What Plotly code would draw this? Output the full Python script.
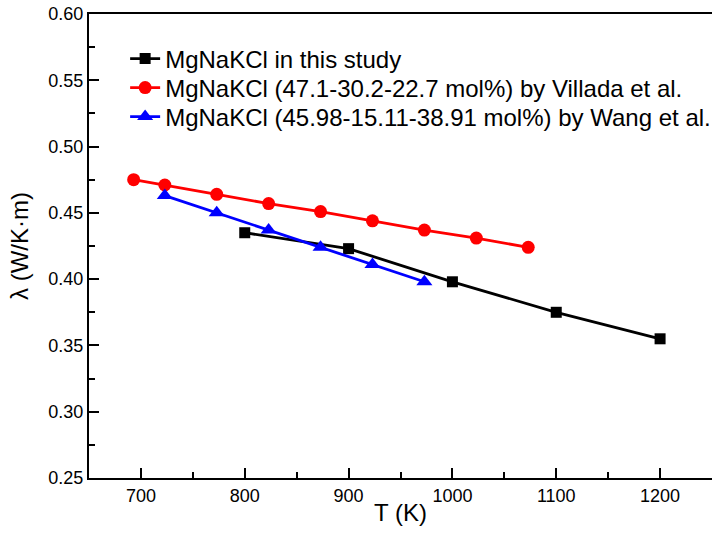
import plotly.graph_objects as go

# Thermal conductivity of MgCl2-NaCl-KCl melts
t_this = [800, 900, 1000, 1100, 1200]
k_this = [0.435, 0.423, 0.398, 0.375, 0.355]

t_villada = [693, 723, 773, 823, 873, 923, 973, 1023, 1073]
k_villada = [0.475, 0.471, 0.464, 0.457, 0.451, 0.444, 0.437, 0.431, 0.424]

t_wang = [723, 773, 823, 873, 923, 973]
k_wang = [0.463, 0.450, 0.437, 0.424, 0.411, 0.398]

names = [
    "MgNaKCl in this study",
    "MgNaKCl (47.1-30.2-22.7 mol%) by Villada et al.",
    "MgNaKCl (45.98-15.11-38.91 mol%) by Wang et al.",
]

FONT = "Arial, Liberation Sans, sans-serif"

fig = go.Figure()
fig.add_trace(go.Scatter(
    x=t_this, y=k_this, mode="lines+markers", name=names[0], legend="legend",
    line=dict(color="black", width=2.8),
    marker=dict(symbol="square", size=11, color="black"),
))
fig.add_trace(go.Scatter(
    x=t_villada, y=k_villada, mode="lines+markers", name=names[1], legend="legend2",
    line=dict(color="#ff0000", width=2.8),
    marker=dict(symbol="circle", size=13, color="#ff0000"),
))
fig.add_trace(go.Scatter(
    x=t_wang, y=k_wang, mode="lines+markers", name=names[2], legend="legend3",
    line=dict(color="#0000ff", width=2.8),
    marker=dict(symbol="triangle-up", size=14, color="#0000ff"),
))

axis_common = dict(
    showgrid=False, zeroline=False,
    showline=True, linecolor="black", linewidth=2, mirror=True,
    ticks="inside", ticklen=10, tickwidth=2, tickcolor="black",
    tickfont=dict(family=FONT, size=18, color="black"),
)

fig.update_xaxes(
    range=[650, 1250], tickvals=[700, 800, 900, 1000, 1100, 1200],
    minor=dict(ticks="inside", ticklen=6, tickwidth=2, tickcolor="black", dtick=50, tick0=650),
    title=dict(text="T (K)", font=dict(family=FONT, size=24, color="black"), standoff=0),
    **axis_common,
)
fig.update_yaxes(
    range=[0.25, 0.60], dtick=0.05, tick0=0.25, tickformat=".2f",
    minor=dict(ticks="inside", ticklen=6, tickwidth=2, tickcolor="black", dtick=0.025, tick0=0.25),
    title=dict(text="λ (W/K·m)", font=dict(family=FONT, size=24, color="black"), standoff=13),
    **axis_common,
)

# one legend box per series, stacked in the upper-left corner
legend_style = dict(
    x=0.058, xanchor="left", yanchor="middle",
    bgcolor="rgba(0,0,0,0)", borderwidth=0,
    font=dict(family=FONT, size=24, color="black"),
)
fig.update_layout(
    width=712, height=533,
    margin=dict(l=89, r=0, t=14, b=55, autoexpand=False),
    paper_bgcolor="white", plot_bgcolor="white",
    font=dict(family=FONT, color="black"),
    legend=dict(y=0.903, **legend_style),
    legend2=dict(y=0.8405, **legend_style),
    legend3=dict(y=0.778, **legend_style),
    showlegend=True,
)

fig.write_html("out.html")
